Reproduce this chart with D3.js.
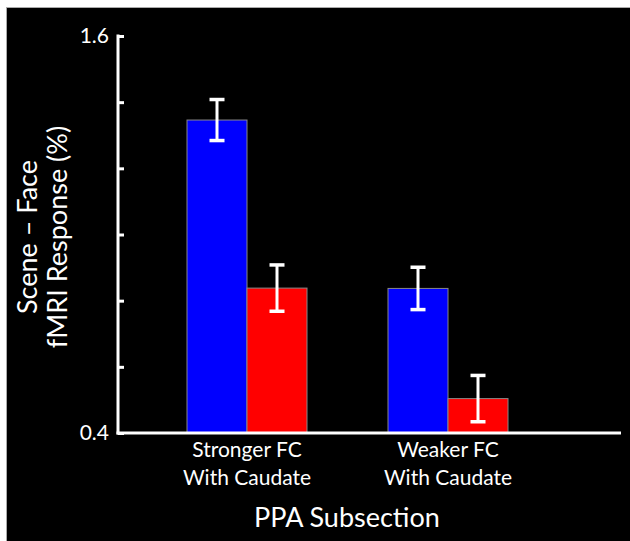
<!DOCTYPE html>
<html><head><meta charset="utf-8">
<script src="https://cdn.jsdelivr.net/npm/d3@7"></script>
<style>html,body{margin:0;padding:0;background:#fff;}svg{display:block;}</style>
</head><body>
<script>
const categories = ["Stronger FC\nWith Caudate", "Weaker FC\nWith Caudate"];
const seriesNames = ["Stronger", "Weaker"];
const seriesColors = ["#0000ff", "#ff0000"];
const values = [[1.346, 0.838], [0.837, 0.504]];
const errors = [[0.062, 0.07], [0.064, 0.07]];
const yTicks = [0.4, 0.6, 0.8, 1.0, 1.2, 1.4, 1.6];
const yTickLabels = ["0.4", "", "", "", "", "", "1.6"];
const yTitle = ["Scene \u2013 Face", "fMRI Response (%)"];
const xTitle = "PPA Subsection";

const W = 630, H = 541;
const font = "Lato, 'Open Sans', sans-serif";
const svg = d3.select("body").append("svg").attr("width", W).attr("height", H);
svg.append("rect").attr("x", 6.5).attr("y", 7.5).attr("width", W).attr("height", H)
  .attr("fill", "#000").attr("stroke", "#aaa").attr("stroke-width", 1);

const y = d3.scaleLinear().domain([0.4, 1.6]).range([433, 36]);
const x = d3.scalePoint().domain(categories).range([146.5, 548.5]).padding(0.5);
const xs = d3.scaleBand().domain(seriesNames).range([-60, 60]);

// bars
const g = svg.append("g");
categories.forEach((c, i) => {
  seriesNames.forEach((s, j) => {
    const v = values[i][j];
    g.append("rect")
      .attr("x", x(c) + xs(s)).attr("y", y(v))
      .attr("width", xs.bandwidth()).attr("height", y(0.4) - y(v))
      .attr("fill", seriesColors[j]).attr("stroke", "#888").attr("stroke-width", 1);
  });
});
// error bars
categories.forEach((c, i) => {
  seriesNames.forEach((s, j) => {
    const v = values[i][j], e = errors[i][j];
    const cx = x(c) + xs(s) + xs.bandwidth() / 2;
    const eg = g.append("g").attr("stroke", "#fff").attr("fill", "none");
    eg.append("line").attr("x1", cx).attr("x2", cx).attr("y1", y(v + e)).attr("y2", y(v - e)).attr("stroke-width", 3);
    eg.append("line").attr("x1", cx - 7.5).attr("x2", cx + 7.5).attr("y1", y(v + e)).attr("y2", y(v + e)).attr("stroke-width", 3.5);
    eg.append("line").attr("x1", cx - 7.5).attr("x2", cx + 7.5).attr("y1", y(v - e)).attr("y2", y(v - e)).attr("stroke-width", 3.5);
  });
});

// y axis
const yAxis = d3.axisRight(y).tickValues(yTicks).tickSize(6).tickFormat("");
const ya = svg.append("g").attr("transform", "translate(118,0)").call(yAxis);
ya.select(".domain").remove();
ya.selectAll(".tick line").attr("stroke", "#fff").attr("stroke-width", 3);
svg.append("line").attr("x1", 118).attr("x2", 118).attr("y1", 34.5).attr("y2", 434.5)
  .attr("stroke", "#fff").attr("stroke-width", 3);
yTicks.forEach((t, k) => {
  if (!yTickLabels[k]) return;
  svg.append("text").attr("x", 109).attr("y", y(t) + 7).attr("text-anchor", "end")
    .attr("fill", "#fff").attr("font-family", font).attr("font-size", 21).text(yTickLabels[k]);
});
// x axis
svg.append("line").attr("x1", 116.5).attr("x2", 621).attr("y1", 433).attr("y2", 433)
  .attr("stroke", "#fff").attr("stroke-width", 3);
categories.forEach(c => {
  const lines = c.split("\n");
  lines.forEach((ln, k) => {
    svg.append("text").attr("x", x(c)).attr("y", 457 + k * 28).attr("text-anchor", "middle")
      .attr("fill", "#fff").attr("font-family", font).attr("font-size", 21).text(ln);
  });
});
svg.append("text").attr("x", 347).attr("y", 527).attr("text-anchor", "middle")
  .attr("fill", "#fff").attr("font-family", font).attr("font-size", 27).text(xTitle);
yTitle.forEach((t, k) => {
  svg.append("text").attr("transform", `translate(${37 + k * 30},237) rotate(-90)`)
    .attr("text-anchor", "middle").attr("fill", "#fff").attr("font-family", font)
    .attr("font-size", 27).text(t);
});
</script>
</body></html>
